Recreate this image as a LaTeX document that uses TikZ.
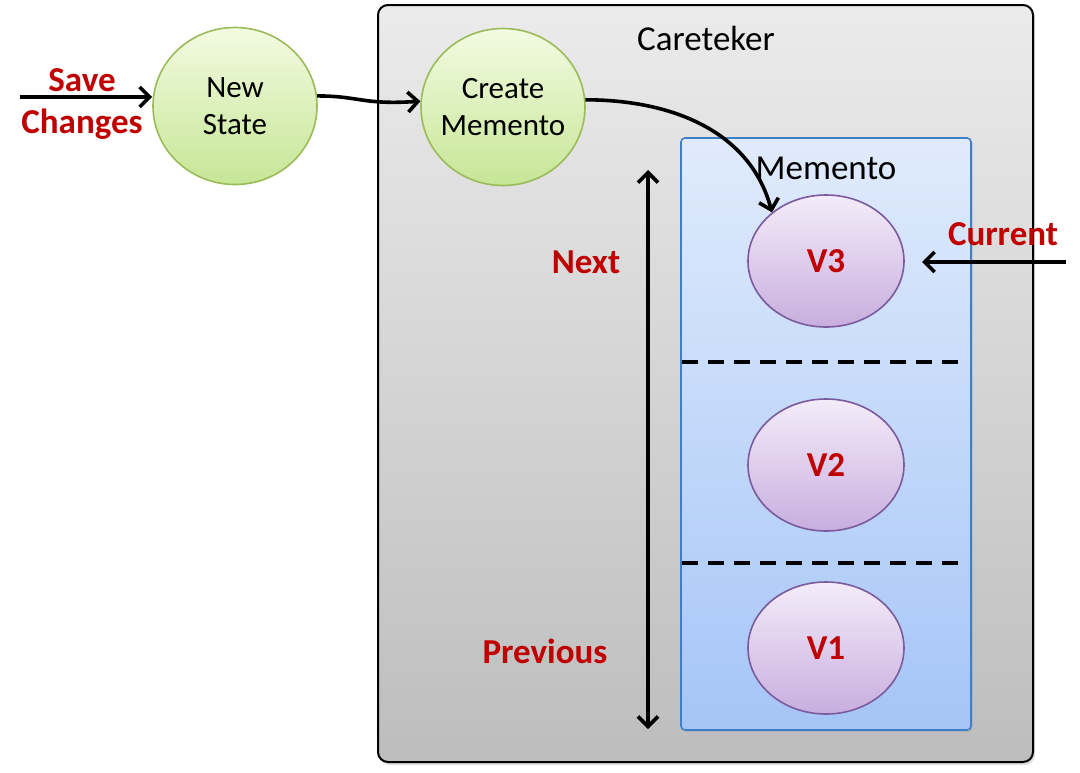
\documentclass[tikz,border=0pt]{standalone}
\usepackage{fontspec}
\setmainfont{Carlito}
\usetikzlibrary{arrows.meta,shadows,shapes.geometric,calc}
\definecolor{lblred}{HTML}{C00000}
\definecolor{grayTop}{HTML}{EBEBEB}
\definecolor{grayBot}{HTML}{BDBDBD}
\definecolor{blueTop}{HTML}{E0EBFC}
\definecolor{blueBot}{HTML}{A5C5F7}
\definecolor{blueLine}{HTML}{3F7FC8}
\definecolor{greenTop}{HTML}{F3FBE2}
\definecolor{greenBot}{HTML}{C6E696}
\definecolor{greenLine}{HTML}{9BBB59}
\definecolor{purpTop}{HTML}{F4ECF9}
\definecolor{purpBot}{HTML}{C8AEDF}
\definecolor{purpLine}{HTML}{7B5A9E}
\tikzset{
  carebox/.style={draw=black, line width=2pt, rounded corners=10pt, top color=grayTop, bottom color=grayBot,
    minimum width=655pt, minimum height=757pt, inner sep=0pt,
    drop shadow={opacity=0.25, shadow xshift=2pt, shadow yshift=-3pt}},
  membox/.style={draw=blueLine, line width=1.6pt, rounded corners=4pt, top color=blueTop, bottom color=blueBot,
    minimum width=290pt, minimum height=592pt, inner sep=0pt,
    drop shadow={opacity=0.2, shadow xshift=2pt, shadow yshift=-2pt}},
  greennode/.style={ellipse, draw=greenLine, line width=1.6pt, top color=greenTop, bottom color=greenBot,
    minimum width=164pt, minimum height=157pt, inner sep=-7pt, align=center,
    font=\fontsize{31}{37}\selectfont},
  vnode/.style={ellipse, draw=purpLine, line width=1.6pt, top color=purpTop, bottom color=purpBot,
    minimum width=156pt, minimum height=132pt, inner sep=0pt,
    font=\fontsize{35}{42}\selectfont\bfseries, text=lblred},
  redlabel/.style={font=\fontsize{35}{42}\selectfont\bfseries, text=lblred, align=center, inner sep=0pt},
  titlelabel/.style={font=\fontsize{35}{40}\selectfont, inner sep=0pt},
  arr/.style={line width=3.6pt, -{Straight Barb[length=10pt,width=20pt,line width=3.6pt]}},
  darr/.style={line width=3.6pt, {Straight Barb[length=10pt,width=20pt,line width=3.6pt]}-{Straight Barb[length=10pt,width=20pt,line width=3.6pt]}},
  sep/.style={line width=3.8pt, dash pattern=on 16pt off 10pt}
}
\begin{document}
\begin{tikzpicture}[x=1pt,y=-1pt]
\useasboundingbox[fill=white] (0,0) rectangle (1080,772);
% containers
\node[carebox] (care) at (705.5,383.5) {};
\node[titlelabel] (caretitle) at (706,38) {Careteker};
\node[membox] (mem) at (826,434) {};
\node[titlelabel] (memtitle) at (826,168) {Memento};
% separators
\coordinate (s1a) at (682,362); \coordinate (s1b) at (962,362);
\coordinate (s2a) at (682,563); \coordinate (s2b) at (962,563);
\draw[sep] (s1a) -- (s1b);
\draw[sep] (s2a) -- (s2b);
% green nodes
\node[greennode] (ns) at (235,106) {New\\State};
\node[greennode] (cm) at (503,107) {Create\\Memento};
% versions
\node[vnode] (v3) at (826,261) {V3};
\node[vnode] (v2) at (826,465) {V2};
\node[vnode] (v1) at (826,648) {V1};
% labels
\node[redlabel] (save) at (82,104) {Save\\Changes};
\node[redlabel] (next) at (586,262) {Next};
\node[redlabel] (prev) at (545,651) {Previous};
\node[redlabel] (curr) at (1003,234) {Current};
% connectors
\coordinate (sc) at (20,97);
\draw[arr] (sc) -- (sc -| ns.west);
\draw[arr] (ns.7) .. controls (360,96) and (362,105) .. (cm.176);
\draw[arr] (cm.5) to[out=0,in=105] (v3.138);
\coordinate (nt) at (648,170);
\coordinate (nb) at (648,729);
\draw[darr] (nt) -- (nb);
\coordinate (cur) at (1066,262);
\coordinate (curend) at (922,262);
\draw[arr] (cur) -- (curend);
\end{tikzpicture}
\end{document}
